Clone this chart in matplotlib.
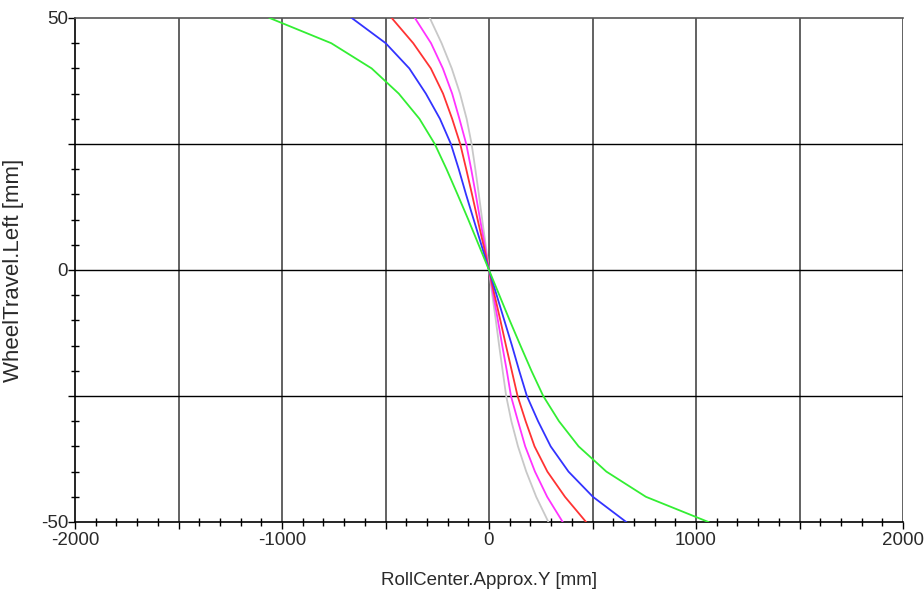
import matplotlib
matplotlib.use("Agg")
import matplotlib.pyplot as plt
from matplotlib.ticker import MultipleLocator, FuncFormatter

plt.rcParams["font.family"] = ["Liberation Sans", "DejaVu Sans"]

# wheel travel (mm), same for every curve
travel = [-50, -45, -40, -35, -30, -25, -20, -15, -10, -5, 0,
          5, 10, 15, 20, 25, 30, 35, 40, 45, 50]

# roll center Y (mm) per setup
rc_green = [1060, 758, 567, 433, 338, 262, 205, 152, 100, 50, 0,
            -50, -100, -152, -205, -262, -336, -436, -567, -762, -1060]
rc_blue = [663, 502, 384, 298, 237, 183, 146, 111, 74, 37, 0,
           -37, -74, -111, -146, -184, -237, -305, -385, -499, -663]
rc_red = [469, 367, 282, 220, 177, 138, 110, 82, 55, 27, 0,
          -27, -55, -82, -110, -139, -178, -222, -281, -366, -470]
rc_magenta = [356, 281, 222, 175, 140, 106, 86, 64, 43, 21, 0,
              -21, -43, -64, -86, -110, -143, -178, -223, -280, -358]
rc_gray = [287, 228, 180, 140, 108, 83, 66, 49, 33, 16, 0,
           -16, -33, -49, -66, -84, -108, -140, -180, -229, -286]

SERIES = [
    (rc_gray, "#c8c8c8"),
    (rc_magenta, "#ff33ff"),
    (rc_red, "#ff3333"),
    (rc_blue, "#3333ff"),
    (rc_green, "#33ee33"),
]

fig = plt.figure(figsize=(9.24, 5.92), dpi=100, facecolor="white")
ax = fig.add_axes([75 / 924, 1 - 522 / 592, 828 / 924, 504 / 592])

for xs, color in SERIES:
    ax.plot(xs, travel, color=color, linewidth=1.3, zorder=3)

ax.set_xlim(-2000, 2000)
ax.set_ylim(-50, 50)

ax.xaxis.set_major_locator(MultipleLocator(500))
ax.xaxis.set_minor_locator(MultipleLocator(100))
ax.yaxis.set_major_locator(MultipleLocator(25))
ax.yaxis.set_minor_locator(MultipleLocator(5))
ax.xaxis.set_major_formatter(FuncFormatter(lambda v, p: f"{v:.0f}" if v % 1000 == 0 else ""))
ax.yaxis.set_major_formatter(FuncFormatter(lambda v, p: f"{v:.0f}" if v % 50 == 0 else ""))

for x in range(-1500, 2001, 500):
    ax.axvline(x, color="#555555", linewidth=1.3, zorder=1)
for y in (-25, 0, 25):
    ax.axhline(y, color="black", linewidth=1.0, zorder=1)

ax.tick_params(which="major", direction="out", length=5, width=1, color="black",
               labelsize=13.5, labelcolor="#2a2a2a")
ax.tick_params(axis="x", which="major", pad=2)
ax.tick_params(axis="y", which="major", pad=0)
ax.tick_params(which="minor", direction="inout", length=6, width=1, color="black")

ax.spines["left"].set_color("black")
ax.spines["bottom"].set_color("black")
ax.spines["top"].set_color("#555555")
ax.spines["right"].set_visible(False)
for s in ax.spines.values():
    s.set_linewidth(1.2)

ax.set_xlabel("RollCenter.Approx.Y [mm]", fontsize=13.5, color="#2a2a2a", labelpad=17)
ax.set_ylabel("WheelTravel.Left [mm]", fontsize=16, color="#2a2a2a", labelpad=12)

fig.savefig("out.png", dpi=100, facecolor="white")
